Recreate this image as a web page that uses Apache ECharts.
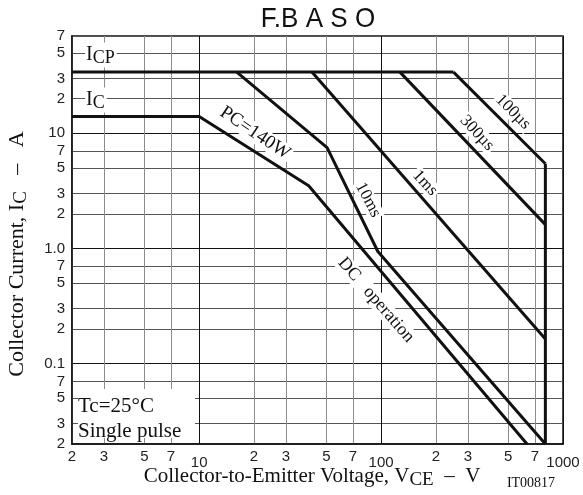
<!DOCTYPE html>
<html>
<head>
<meta charset="utf-8">
<script src="https://cdn.jsdelivr.net/npm/echarts@6/dist/echarts.min.js"></script>
<style>html,body{margin:0;padding:0;background:#fff}#c{width:583px;height:495px}</style>
</head>
<body>
<div id="c"></div>
<script>
// ---- data (V, A) ----
const xTickValues = [2,3,5,7,10,20,30,50,70,100,200,300,500,700,1000];
const xTickLabels = ['2','3','5','7','10','2','3','5','7','100','2','3','5','7','1000'];
const yTickValues = [0.02,0.03,0.05,0.07,0.1,0.2,0.3,0.5,0.7,1,2,3,5,7,10,20,30,50,70];
const yTickLabels = ['2','3','5','7','0.1','2','3','5','7','1.0','2','3','5','7','10','2','3','5','7'];
const decadeValues = [10,100,1000];

const icpLine   = [[2,34],[250,34]];
const icLine    = [[2,14],[10,14]];
const dcLine    = [[10,14],[40,3.5],[634,0.02]];
const ms10Line  = [[16.1,34],[50.5,7.5],[96,0.94],[800,0.02]];
const ms1Line   = [[41.7,34],[800,0.163]];
const us300Line = [[127,34],[800,1.61]];
const us100Line = [[250,34],[800,5.44]];
const vceLimit  = [[800,5.44],[800,0.02]];

const seriesList = [
  ['ICP', icpLine], ['IC', icLine], ['DC operation', dcLine], ['10ms', ms10Line],
  ['1ms', ms1Line], ['300µs', us300Line], ['100µs', us100Line], ['VCEO', vceLimit]
];

function findIdx(arr, v){ return arr.findIndex(t => Math.abs(t - v) / t < 1e-6); }

const chart = echarts.init(document.getElementById('c'), null, {renderer:'canvas'});
const serif = '"Liberation Serif", "Times New Roman", serif';
const sans = '"Liberation Sans", Arial, sans-serif';

function lbl(x, y, deg, text, size){
  return {type:'text', x:x, y:y, rotation: deg*Math.PI/180, z:50,
    style:{text:text, font: size+'px '+serif, fill:'#111', align:'center', verticalAlign:'middle',
      backgroundColor:'#fff', padding:[0,2,0,2]}};
}
function subText(x, y, main, sub){
  return {type:'text', x:x, y:y, z:50, style:{text: main+'{s|'+sub+'}', font:'20px '+serif, fill:'#111',
    align:'left', verticalAlign:'middle', backgroundColor:'#fff', padding:[0,2,0,1],
    rich:{s:{font:'18px '+serif, fill:'#111', padding:[7,0,0,0]}}}};
}

chart.setOption({
  animation:false,
  backgroundColor:'#fff',
  grid:{left:72, right:20, top:36, bottom:51, show:true, borderColor:'#111', borderWidth:1.5, backgroundColor:'transparent'},
  xAxis:{
    type:'log', logBase:10, min:2, max:1000,
    axisLine:{show:true, lineStyle:{color:'#111', width:1.5}},
    axisTick:{show:false, customValues:xTickValues},
    axisLabel:{show:true, customValues:xTickValues, margin:5, color:'#222', fontFamily:sans, fontSize:15,
      formatter:function(v){ const i = findIdx(xTickValues, v); if(i<0) return '';
        return findIdx(decadeValues, v) >= 0 ? '{d|'+xTickLabels[i]+'}' : xTickLabels[i]; },
      rich:{d:{fontFamily:sans, fontSize:15, color:'#222', padding:[6,0,0,0]}}},
    splitLine:{show:true, lineStyle:{color:['#8c8c8c','#8c8c8c','#8c8c8c','#8c8c8c','#111'], width:1}}
  },
  yAxis:{
    type:'log', logBase:10, min:0.02, max:70,
    axisLine:{show:true, lineStyle:{color:'#111', width:1.5}},
    axisTick:{show:false, customValues:yTickValues},
    axisLabel:{show:true, customValues:yTickValues, margin:7, color:'#222', fontFamily:sans, fontSize:15,
      formatter:function(v){ const i = findIdx(yTickValues, v); return i<0 ? '' : yTickLabels[i]; }},
    splitLine:{show:true, lineStyle:{color:['#555','#555','#555','#555','#111'], width:1}}
  },
  series: seriesList.map(s => ({
    name:s[0], type:'line', data:s[1], symbol:'none', z:10,
    lineStyle:{color:'#111', width:3}, clip:true
  })),
  graphic:[
    {type:'text', x:318, y:19, scaleX:0.93, z:50, style:{text:'F.B A S O', font:'28px '+sans, fill:'#111', align:'center', verticalAlign:'middle'}},
    subText(85, 55, 'I', 'CP'),
    subText(85, 100, 'I', 'C'),
    lbl(255,133,-34,'PC=140W',19),
    lbl(368,200,-62,'10ms',17),
    lbl(425,183,-47,'1ms',17),
    lbl(477,133,-47,'300µs',17),
    lbl(513,112,-45,'100µs',17),
    lbl(376,300,-49,'DC   operation',18),
    {type:'rect', z:40, shape:{x:78, y:389, width:117, height:49}, style:{fill:'#fff'}},
    {type:'text', x:78, y:406, z:50, style:{text:'Tc=25°C', font:'21px '+serif, fill:'#111', align:'left', verticalAlign:'middle'}},
    {type:'text', x:78, y:431, z:50, style:{text:'Single pulse', font:'21px '+serif, fill:'#111', align:'left', verticalAlign:'middle'}},
    {type:'text', x:312, y:476, z:50, style:{text:'Collector-to-Emitter Voltage, V{s|CE}  –  V', font:'21px '+serif, fill:'#111', align:'center', verticalAlign:'middle',
      rich:{s:{font:'19px '+serif, fill:'#111', padding:[8,0,0,0]}}}},
    {type:'text', x:531, y:483, z:50, style:{text:'IT00817', font:'14px '+serif, fill:'#111', align:'center', verticalAlign:'middle'}},
    {type:'text', x:17, y:254, rotation:Math.PI/2, z:50, style:{text:'Collector Current, I{s|C}   –   A', font:'22px '+serif, fill:'#111', align:'center', verticalAlign:'middle',
      rich:{s:{font:'19px '+serif, fill:'#111', padding:[8,0,0,0]}}}}
  ]
});
</script>
</body>
</html>
